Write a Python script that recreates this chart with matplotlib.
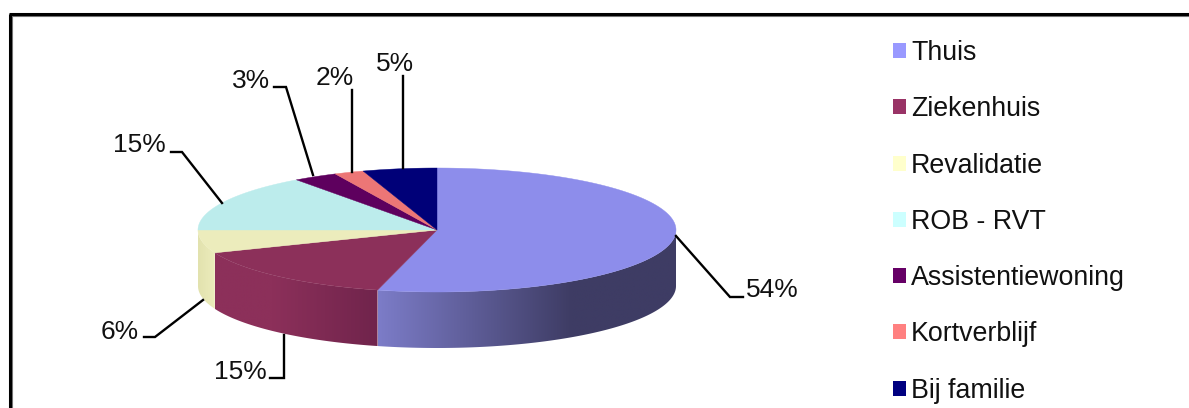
import numpy as np
import matplotlib
matplotlib.use('Agg')
import matplotlib.pyplot as plt
from matplotlib.patches import Patch, Polygon

plt.rcParams['font.family'] = ['Liberation Sans', 'DejaVu Sans']

# care settings, in drawing order clockwise from 12 o'clock
categories = ['Thuis', 'Ziekenhuis', 'Revalidatie', 'ROB - RVT',
              'Assistentiewoning', 'Kortverblijf', 'Bij familie']
values = [54, 15, 6, 15, 3, 2, 5]
legend_colors = ['#9999FF', '#993366', '#FFFFCC', '#CCFFFF', '#660066', '#FF8080', '#000080']
top_colors = ['#8D8DEB', '#8C305A', '#ECECBC', '#BCECEC', '#5E005E', '#EC7676', '#000078']
# side shading, left and right end of the gradient
side_left = ['#7C7CC8', '#8C305A', '#E2E2AE', '#BCECEC', '#5E005E', '#EC7676', '#000078']
side_right = ['#3E3C64', '#70244C', '#ECECBC', '#BCECEC', '#5E005E', '#EC7676', '#000078']
# where the gradient starts and stops, as a share of the wall width
grad_start = [0, 0.35, 0, 0, 0, 0, 0]
grad_stop = [0.65, 1, 1, 1, 1, 1, 1]

W, H = 1189, 408
cx, cy = 437, 230
rx, ry = 239, 62
depth = 56

fig = plt.figure(figsize=(W / 100, H / 100), dpi=100)
ax = fig.add_axes([0, 0, 1, 1])
ax.set_xlim(0, W)
ax.set_ylim(H, 0)
ax.axis('off')


def rim(a0, a1):
    t = np.linspace(a0, a1, 200)
    return cx + rx * np.sin(t), cy - ry * np.cos(t)


bounds = np.cumsum([0] + values) / sum(values) * 2 * np.pi

# the visible side wall, only the front half of the ellipse
for i in range(len(values)):
    a0 = max(bounds[i], np.pi / 2)
    a1 = min(bounds[i + 1], 3 * np.pi / 2)
    if a1 <= a0:
        continue
    x, y = rim(a0, a1)
    wall = Polygon(np.column_stack([np.r_[x, x[::-1]], np.r_[y, y[::-1] + depth]]),
                   closed=True, fc='none', ec='none')
    ax.add_patch(wall)
    c0 = np.array(matplotlib.colors.to_rgb(side_left[i]))
    c1 = np.array(matplotlib.colors.to_rgb(side_right[i]))
    f = np.clip((np.linspace(0, 1, 256) - grad_start[i]) / (grad_stop[i] - grad_start[i]), 0, 1)
    grad = (c0 + (c1 - c0) * f[:, None])[None, :, :]
    im = ax.imshow(grad, extent=[x.min(), x.max(), y.max() + depth, y.min()],
                   aspect='auto', zorder=2, interpolation='bilinear')
    im.set_clip_path(wall)
ax.set_xlim(0, W)
ax.set_ylim(H, 0)

# top face
for i in range(len(values)):
    x, y = rim(bounds[i], bounds[i + 1])
    ax.fill(np.r_[cx, x], np.r_[cy, y], color=top_colors[i], lw=0.3, zorder=3)

# leader lines and percentage labels
leaders = [
    [(676, 236), (730, 297), (743, 297)],
    [(284, 335), (284, 378), (270, 378)],
    [(203, 300), (155, 337), (144, 337)],
    [(222, 203), (182, 152), (171, 152)],
    [(313, 175), (286, 87), (274, 87)],
    [(352, 172), (352, 90)],
    [(403, 168), (403, 76)],
]
label_pos = [(746, 297), (267, 379), (139, 339), (166, 152), (270, 88), (354, 85), (414, 71)]
for pts, pos, v in zip(leaders, label_pos, values):
    ax.plot(*zip(*pts), color='black', lw=1.7, solid_joinstyle='miter', zorder=4)
    ha = 'left' if pos[0] > cx + rx else 'right'
    ax.text(pos[0], pos[1], f'{v}%', fontsize=19, ha=ha, va='baseline', color='#111111', zorder=5)

# frame, with its grey inner shadow
ax.plot([9.5, 9.5], [H, 14], color='black', lw=2.2, solid_capstyle='butt', zorder=6)
ax.plot([9, W], [14, 14], color='black', lw=2.2, solid_capstyle='butt', zorder=6)
ax.plot([11.5, 11.5], [H, 16], color='#777777', lw=0.8, zorder=5)
ax.plot([11, W], [16, 16], color='#777777', lw=0.8, zorder=5)

handles = [Patch(fc=c, ec='none') for c in legend_colors]
ax.legend(handles, categories, loc='upper left', bbox_to_anchor=(893 / W, 1 - 40 / H),
          bbox_transform=fig.transFigure, frameon=False, fontsize=19.3, borderpad=0, borderaxespad=0,
          handlelength=0.48, handleheight=0.48, handletextpad=0.19, labelspacing=1.13, labelcolor='#111111')

fig.savefig('out.png', dpi=100)
